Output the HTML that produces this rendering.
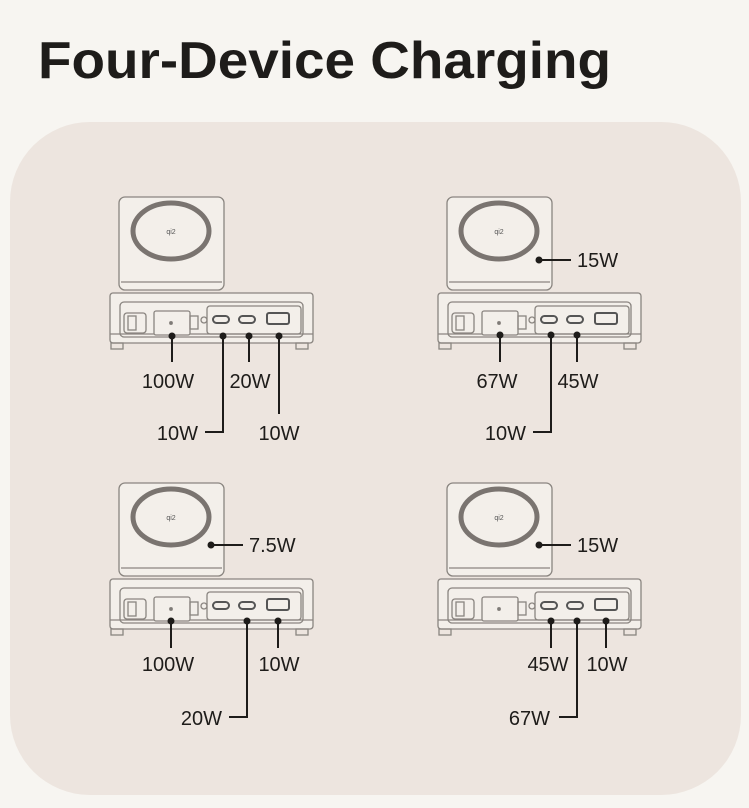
<!DOCTYPE html>
<html><head><meta charset="utf-8"><style>
html,body{margin:0;padding:0;background:#f7f5f1;}
svg{display:block}
text{font-family:"Liberation Sans",sans-serif;fill:#1e1c1a}
</style></head><body>
<svg width="749" height="808" viewBox="0 0 749 808" xmlns="http://www.w3.org/2000/svg">
<rect width="749" height="808" fill="#f7f5f1"/>
<text x="38" y="78" font-size="52" font-weight="bold" textLength="573" lengthAdjust="spacingAndGlyphs">Four-Device Charging</text>
<rect x="10" y="122" width="731" height="673" rx="80" fill="#ede5df"/>
<defs>
<g id="dev" fill="none" stroke="#8a8580" stroke-width="1.3">
  <rect x="119" y="197" width="105" height="93" rx="6" fill="#f3efea"/>
  <line x1="121" y1="282" x2="222" y2="282"/>
  <ellipse cx="171" cy="231" rx="38" ry="28" stroke="#7a7470" stroke-width="5"/>
  <text x="171" y="234" font-size="7" text-anchor="middle" stroke="none" style="fill:#555">qi2</text>
  <rect x="110" y="293" width="203" height="50" rx="3" fill="#f3efea"/>
  <line x1="110" y1="334" x2="313" y2="334"/>
  <rect x="120" y="302" width="183" height="35" rx="4"/>
  <rect x="124" y="313" width="22" height="20" rx="3"/>
  <rect x="128" y="316" width="8" height="14"/>
  <rect x="154" y="311" width="36" height="24" rx="2" fill="#f3efea"/>
  <circle cx="171" cy="323" r="1.3" fill="#666"/>
  <rect x="190" y="316" width="8" height="13"/>
  <circle cx="204" cy="320" r="3"/>
  <rect x="207" y="306" width="94" height="28" rx="3"/>
  <rect x="213" y="316" width="16" height="7" rx="3.5" stroke="#555" stroke-width="2"/>
  <rect x="239" y="316" width="16" height="7" rx="3.5" stroke="#555" stroke-width="2"/>
  <rect x="267" y="313" width="22" height="11" rx="2" stroke="#555" stroke-width="2"/>
  <rect x="111" y="343" width="12" height="6"/>
  <rect x="296" y="343" width="12" height="6"/>
</g>
</defs>
<use href="#dev"/>
<use href="#dev" transform="translate(328,0)"/>
<use href="#dev" transform="translate(0,286)"/>
<use href="#dev" transform="translate(328,286)"/>

<g stroke="#1e1c1a" stroke-width="2" fill="#1e1c1a">
<circle cx="172" cy="336" r="2.5"/><line x1="172" y1="336" x2="172" y2="362"/>
<circle cx="249" cy="336" r="2.5"/><line x1="249" y1="336" x2="249" y2="362"/>
<circle cx="223" cy="336" r="2.5"/><polyline fill="none" points="223,336 223,432 205,432"/>
<circle cx="279" cy="336" r="2.5"/><line x1="279" y1="336" x2="279" y2="414"/>
<circle cx="539" cy="260" r="2.5"/><line x1="539" y1="260" x2="571" y2="260"/>
<circle cx="500" cy="335" r="2.5"/><line x1="500" y1="335" x2="500" y2="362"/>
<circle cx="577" cy="335" r="2.5"/><line x1="577" y1="335" x2="577" y2="362"/>
<circle cx="551" cy="335" r="2.5"/><polyline fill="none" points="551,335 551,432 533,432"/>
<circle cx="211" cy="545" r="2.5"/><line x1="211" y1="545" x2="243" y2="545"/>
<circle cx="171" cy="621" r="2.5"/><line x1="171" y1="621" x2="171" y2="648"/>
<circle cx="278" cy="621" r="2.5"/><line x1="278" y1="621" x2="278" y2="648"/>
<circle cx="247" cy="621" r="2.5"/><polyline fill="none" points="247,621 247,717 229,717"/>
<circle cx="539" cy="545" r="2.5"/><line x1="539" y1="545" x2="571" y2="545"/>
<circle cx="551" cy="621" r="2.5"/><line x1="551" y1="621" x2="551" y2="648"/>
<circle cx="606" cy="621" r="2.5"/><line x1="606" y1="621" x2="606" y2="648"/>
<circle cx="577" cy="621" r="2.5"/><polyline fill="none" points="577,621 577,717 559,717"/>
</g>

<g font-size="20">
<text x="168" y="388" text-anchor="middle">100W</text>
<text x="250" y="388" text-anchor="middle">20W</text>
<text x="198" y="440" text-anchor="end">10W</text>
<text x="279" y="440" text-anchor="middle">10W</text>
<text x="577" y="267">15W</text>
<text x="497" y="388" text-anchor="middle">67W</text>
<text x="578" y="388" text-anchor="middle">45W</text>
<text x="526" y="440" text-anchor="end">10W</text>
<text x="249" y="552">7.5W</text>
<text x="168" y="671" text-anchor="middle">100W</text>
<text x="279" y="671" text-anchor="middle">10W</text>
<text x="222" y="725" text-anchor="end">20W</text>
<text x="577" y="552">15W</text>
<text x="548" y="671" text-anchor="middle">45W</text>
<text x="607" y="671" text-anchor="middle">10W</text>
<text x="550" y="725" text-anchor="end">67W</text>
</g>
</svg>
</body></html>
